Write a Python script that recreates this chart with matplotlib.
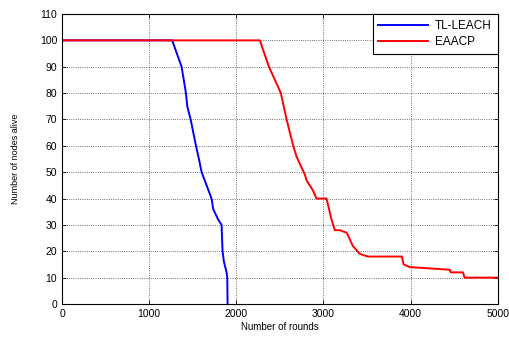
import matplotlib
matplotlib.use("Agg")
import matplotlib.pyplot as plt

# TL-LEACH: rounds vs nodes alive
tl_rounds = [0, 1265, 1296, 1372, 1422, 1437, 1476, 1537, 1571, 1602, 1659, 1716,
             1735, 1792, 1831, 1842, 1858, 1888, 1896, 1900]
tl_alive = [100, 100, 97, 90, 80, 75, 70, 60, 55, 50, 45, 40,
            36, 32, 30, 20, 16, 12, 10, 0]

# EAACP
ea_rounds = [0, 2270, 2374, 2511, 2577, 2653, 2690, 2787, 2805, 2880, 2920, 3035,
             3093, 3130, 3188, 3268, 3337, 3417, 3510, 3900, 3920, 3990, 4450,
             4460, 4600, 4620, 5000]
ea_alive = [100, 100, 90, 80, 70, 60, 56, 49, 47, 43, 40, 40,
            32, 28, 28, 27, 22, 19, 18, 18, 15, 14, 13,
            12, 12, 10, 10]

x_ticks = [0, 1000, 2000, 3000, 4000, 5000]
y_ticks = list(range(0, 111, 10))

plt.rcParams['font.family'] = ['Liberation Sans', 'DejaVu Sans']

fig = plt.figure(figsize=(5.10, 3.38), dpi=100)
ax = fig.add_axes([0.1216, 0.1006, 0.8544, 0.858])

ax.plot(tl_rounds, tl_alive, color=(0, 0, 1), lw=1.4, label='TL-LEACH')
ax.plot(ea_rounds, ea_alive, color=(1, 0, 0), lw=1.4, label='EAACP')

ax.set_xlim(0, 5000)
ax.set_ylim(0, 110)
ax.set_xticks(x_ticks)
ax.set_yticks(y_ticks)
ax.tick_params(direction='in', top=True, right=True, labelsize=7.5, length=3, width=0.6)
ax.grid(True, linestyle=':', color='#444444', lw=0.6)
for s in ax.spines.values():
    s.set_linewidth(0.8)

ax.set_xlabel('Number of rounds', fontsize=7, labelpad=2)
ax.set_ylabel('Number of nodes alive', fontsize=6.5, labelpad=14)

leg = ax.legend(loc='upper right', fontsize=8.5, fancybox=False, framealpha=1,
                edgecolor='black', borderaxespad=0, handlelength=4.2,
                borderpad=0.5, labelspacing=0.35, handletextpad=0.6)
leg.get_frame().set_linewidth(0.8)

fig.savefig('out.png', dpi=100)
